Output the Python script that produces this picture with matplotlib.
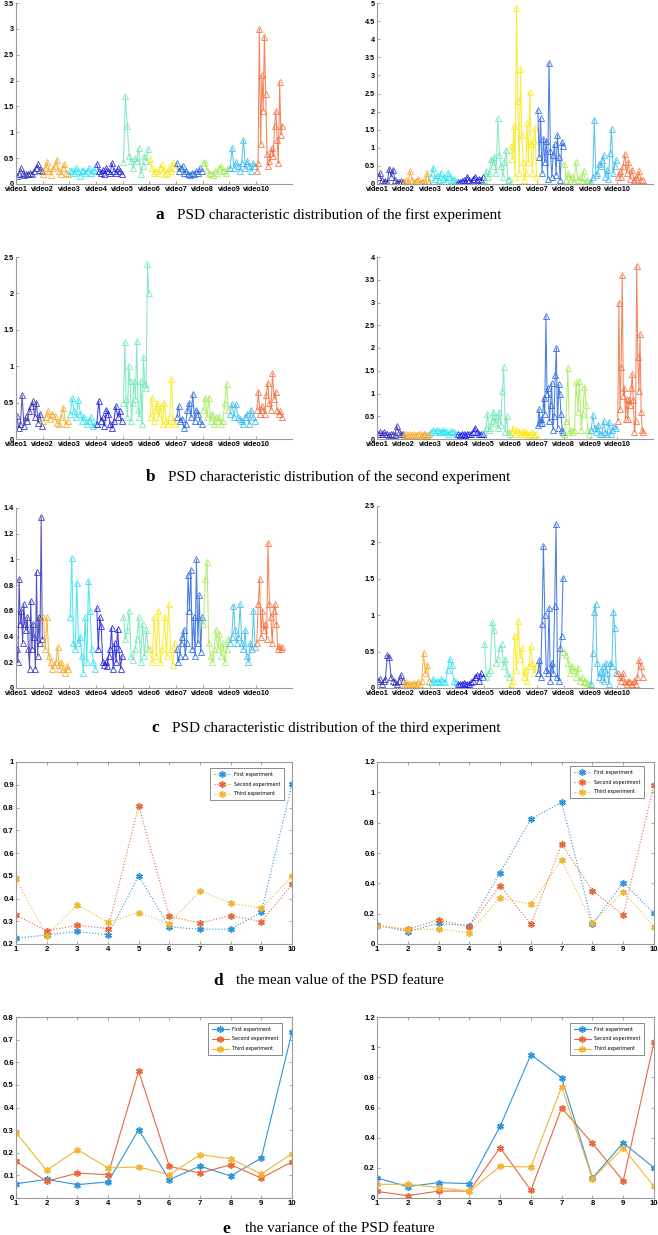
import numpy as np
import matplotlib
matplotlib.use("Agg")
import matplotlib.pyplot as plt
from matplotlib.ticker import FuncFormatter

W, H = 658, 1235

videos = [f"video{i}" for i in range(1, 11)]
video_colors = ["#3434b8", "#f7a928", "#2ee3f0", "#2020e0", "#70e8b4",
                "#fbe812", "#2a68e0", "#a2ec5a", "#3cbcf0", "#f2703e"]

# ---------------- PSD characteristic distribution data (per video) ----------------
a_left = [
    [0.15, 0.2, 0.3, 0.22, 0.18, 0.2, 0.19, 0.22, 0.2, 0.25, 0.3, 0.38, 0.28, 0.25],
    [0.2, 0.3, 0.42, 0.25, 0.18, 0.3, 0.35, 0.47, 0.25, 0.2, 0.3, 0.38, 0.22, 0.2],
    [0.28, 0.25, 0.22, 0.3, 0.25, 0.15, 0.25, 0.28, 0.22, 0.25, 0.3, 0.22, 0.28, 0.25],
    [0.38, 0.25, 0.22, 0.28, 0.2, 0.3, 0.25, 0.22, 0.4, 0.25, 0.22, 0.3, 0.25, 0.2],
    [0.42, 1.7, 1.13, 0.55, 0.45, 0.3, 0.5, 0.45, 0.7, 0.2, 0.35, 0.55, 0.45, 0.68],
    [0.48, 0.3, 0.22, 0.25, 0.22, 0.3, 0.38, 0.28, 0.2, 0.22, 0.3, 0.25, 0.42, 0.3],
    [0.4, 0.25, 0.3, 0.35, 0.22, 0.25, 0.2, 0.18, 0.22, 0.2, 0.25, 0.22, 0.3, 0.25],
    [0.4, 0.42, 0.28, 0.2, 0.22, 0.18, 0.25, 0.22, 0.3, 0.35, 0.28, 0.25, 0.22, 0.3],
    [0.3, 0.7, 0.3, 0.42, 0.35, 0.25, 0.4, 0.85, 0.3, 0.45, 0.35, 0.25, 0.4, 0.35],
    [0.25, 0.4, 3.0, 0.77, 2.1, 1.42, 2.85, 1.75, 0.58, 0.35, 0.45, 0.6, 0.7, 0.55,
     1.13, 1.42, 0.85, 0.4, 1.97, 0.95, 1.13],
]
a_right = [
    [0.2, 0.3, 0.1, 0.05, 0.08, 0.05, 0.42, 0.2, 0.4, 0.1, 0.05, 0.05, 0.08, 0.05],
    [0.05, 0.1, 0.05, 0.35, 0.1, 0.05, 0.08, 0.15, 0.05, 0.05, 0.1, 0.05, 0.3, 0.05],
    [0.2, 0.45, 0.15, 0.25, 0.1, 0.3, 0.15, 0.2, 0.08, 0.3, 0.2, 0.1, 0.15, 0.05],
    [0.05, 0.05, 0.08, 0.1, 0.05, 0.2, 0.1, 0.05, 0.15, 0.2, 0.1, 0.15, 0.1, 0.2],
    [0.1, 0.35, 0.2, 0.3, 0.7, 0.5, 0.75, 0.3, 1.82, 0.8, 0.5, 0.2, 0.6, 0.95, 0.1, 0.15],
    [1.05, 0.7, 1.6, 0.2, 4.85, 2.3, 0.3, 3.18, 1.35, 0.6, 0.1, 0.3, 1.68, 0.6, 2.55,
     1.1, 0.3, 1.2, 1.55, 0.2],
    [2.05, 0.75, 1.82, 0.3, 1.25, 0.6, 1.2, 0.15, 3.35, 0.9, 0.2, 0.8, 1.1, 0.25, 1.35,
     0.75, 0.1, 1.15, 1.05],
    [0.55, 0.1, 0.3, 0.15, 0.2, 0.05, 0.6, 0.1, 0.2, 0.08, 0.35, 0.05, 0.1, 0.05],
    [0.05, 0.2, 1.78, 0.25, 0.3, 0.55, 0.5, 0.65, 0.8, 0.2, 0.4, 0.15, 0.85, 1.52, 0.3,
     0.5, 0.65],
    [0.2, 0.35, 0.2, 0.5, 0.82, 0.3, 0.62, 0.15, 0.4, 0.1, 0.2, 0.15, 0.35, 0.1, 0.12],
]
b_left = [
    [0.32, 0.15, 0.2, 0.6, 0.18, 0.3, 0.25, 0.38, 0.45, 0.52, 0.3, 0.5, 0.22, 0.35, 0.18],
    [0.25, 0.3, 0.38, 0.28, 0.35, 0.32, 0.22, 0.2, 0.3, 0.43, 0.2, 0.25],
    [0.35, 0.56, 0.38, 0.3, 0.53, 0.35, 0.25, 0.3, 0.2, 0.25, 0.3, 0.18, 0.2],
    [0.2, 0.52, 0.25, 0.3, 0.18, 0.4, 0.35, 0.2, 0.15, 0.25, 0.45, 0.3, 0.38, 0.25],
    [0.5, 1.33, 0.55, 0.3, 1.0, 0.8, 0.25, 0.5, 0.8, 0.55, 1.35, 0.4, 0.3, 0.8, 0.2,
     1.12, 0.75, 0.7, 2.4, 2.0],
    [0.3, 0.57, 0.25, 0.4, 0.5, 0.3, 0.45, 0.2, 0.5, 0.25, 0.2, 0.3, 0.82, 0.25, 0.2],
    [0.3, 0.45, 0.25, 0.28, 0.15, 0.2, 0.4, 0.5, 0.3, 0.62, 0.25, 0.4, 0.35, 0.25, 0.2],
    [0.4, 0.57, 0.3, 0.57, 0.25, 0.35, 0.2, 0.3, 0.25, 0.3, 0.2, 0.25, 0.5, 0.76, 0.4],
    [0.35, 0.48, 0.3, 0.48, 0.3, 0.28, 0.25, 0.2, 0.3, 0.35, 0.2, 0.4, 0.3, 0.25],
    [0.4, 0.65, 0.35, 0.45, 0.4, 0.35, 0.6, 0.77, 0.5, 0.4, 0.9, 0.55, 0.65, 0.4, 0.35,
     0.38, 0.3],
]
b_right = [
    [0.12, 0.15, 0.1, 0.15, 0.12, 0.1, 0.08, 0.1, 0.12, 0.08, 0.28, 0.15, 0.1, 0.12],
    [0.08, 0.1, 0.08, 0.1, 0.08, 0.1, 0.08, 0.1, 0.1, 0.08, 0.1, 0.1, 0.08, 0.1],
    [0.15, 0.2, 0.15, 0.2, 0.18, 0.15, 0.2, 0.15, 0.18, 0.12, 0.15, 0.18, 0.15, 0.1],
    [0.1, 0.08, 0.12, 0.1, 0.08, 0.12, 0.1, 0.12, 0.15, 0.25, 0.15, 0.1, 0.12, 0.1],
    [0.15, 0.25, 0.55, 0.2, 0.25, 0.4, 0.6, 0.35, 0.5, 0.25, 0.6, 0.3, 1.05, 1.58, 0.15,
     0.5, 0.15, 0.1],
    [0.15, 0.25, 0.1, 0.2, 0.15, 0.1, 0.18, 0.1, 0.15, 0.08, 0.12, 0.15, 0.08, 0.1],
    [0.3, 0.65, 0.35, 0.45, 0.35, 0.9, 0.55, 2.7, 1.0, 1.12, 0.4, 0.75, 1.22, 0.2, 0.5,
     1.4, 2.0, 0.25, 1.2, 1.0, 0.55, 0.2, 0.15],
    [0.1, 0.4, 1.56, 0.15, 0.2, 0.15, 0.2, 1.25, 0.6, 1.27, 0.2, 0.55, 1.15, 0.75, 0.2, 0.1],
    [0.2, 0.52, 0.25, 0.15, 0.3, 0.12, 0.1, 0.4, 0.15, 0.1, 0.38, 0.1, 0.2, 0.28, 0.25],
    [0.4, 3.0, 0.65, 1.58, 3.6, 0.95, 1.12, 0.45, 0.88, 0.45, 0.85, 0.75, 1.12, 1.42, 0.85,
     0.15, 0.4, 3.8, 1.8, 1.05, 2.3, 0.6, 0.2, 0.15],
]
c_left = [
    [0.3, 0.2, 0.85, 0.5, 0.6, 0.35, 0.65, 0.5, 0.45, 0.55, 0.3, 0.15, 0.68, 0.3, 0.5,
     0.4, 0.15, 0.9, 0.25, 0.55, 0.35, 1.33, 0.38],
    [0.55, 0.3, 0.55, 0.25, 0.2, 0.15, 0.18, 0.2, 0.32, 0.15, 0.2, 0.15, 0.12, 0.17, 0.15],
    [0.55, 1.01, 0.35, 0.3, 0.82, 0.35, 0.4, 0.25, 0.12, 0.55, 0.2, 0.83, 0.6, 0.3, 0.2, 0.15],
    [0.62, 0.3, 0.55, 0.48, 0.2, 0.18, 0.2, 0.17, 0.25, 0.3, 0.47, 0.15, 0.35, 0.2, 0.46,
     0.3, 0.15, 0.25],
    [0.55, 0.38, 0.45, 0.6, 0.25, 0.22, 0.3, 0.38, 0.55, 0.2, 0.5, 0.25, 0.45, 0.3],
    [0.3, 0.2, 0.55, 0.25, 0.6, 0.2, 0.3, 0.55, 0.25, 0.65, 0.3, 0.18, 0.35],
    [0.3, 0.2, 0.25, 0.35, 0.4, 0.45, 0.25, 0.35, 0.88, 0.6, 0.92, 0.3, 0.55, 0.25, 1.0,
     0.35, 0.72, 0.28, 0.55],
    [0.5, 0.85, 0.98, 0.35, 0.25, 0.2, 0.3, 0.45, 0.3, 0.42, 0.25, 0.35, 0.2, 0.3, 0.38],
    [0.35, 0.4, 0.64, 0.45, 0.35, 0.4, 0.65, 0.35, 0.3, 0.45, 0.25, 0.2, 0.35, 0.3, 0.6, 0.32],
    [0.35, 0.65, 0.85, 0.4, 0.6, 0.45, 0.5, 0.38, 1.13, 0.65, 0.55, 0.35, 0.6, 0.65, 0.5,
     0.3, 0.33, 0.3, 0.32],
]
c_right = [
    [0.1, 0.12, 0.05, 0.1, 0.12, 0.45, 0.42, 0.15, 0.1, 0.08, 0.05, 0.1, 0.18, 0.1],
    [0.05, 0.08, 0.05, 0.06, 0.05, 0.07, 0.05, 0.08, 0.05, 0.1, 0.48, 0.2, 0.32, 0.1],
    [0.08, 0.12, 0.08, 0.1, 0.08, 0.12, 0.1, 0.08, 0.25, 0.4, 0.32, 0.1, 0.08],
    [0.05, 0.06, 0.05, 0.07, 0.05, 0.06, 0.05, 0.08, 0.1, 0.15, 0.18, 0.1, 0.2, 0.15],
    [0.6, 0.15, 0.2, 0.25, 0.9, 0.8, 0.35, 0.4, 0.55, 0.6, 0.3, 0.4, 0.2, 0.15],
    [0.05, 0.1, 0.72, 0.25, 0.92, 0.4, 0.55, 0.15, 0.25, 0.1, 0.3, 0.58, 0.35, 0.2, 0.3],
    [0.2, 0.38, 0.15, 0.88, 1.95, 1.0, 0.25, 0.2, 1.1, 0.1, 0.35, 0.2, 1.13, 2.25, 0.15,
     0.1, 0.55, 0.72, 1.51],
    [0.5, 0.45, 0.35, 0.2, 0.3, 0.25, 0.15, 0.28, 0.1, 0.15, 0.08, 0.1, 0.07, 0.05],
    [0.05, 0.48, 1.05, 1.15, 0.35, 0.15, 0.22, 0.12, 0.3, 0.1, 0.35, 0.2, 0.05, 0.35, 0.3,
     1.05, 0.82, 0.2],
    [0.2, 0.15, 0.1, 0.2, 0.08, 0.05, 0.1, 0.08, 0.05, 0.1, 0.05, 0.15, 0.38, 0.3, 0.15],
]

# ---------------- mean / variance data ----------------
exp_labels = ["First experiment", "Second experiment", "Third experiment"]
exp_colors = ["#2f95da", "#e8683c", "#f2b532"]
video_idx = list(range(1, 11))

mean_left_first = [0.225, 0.24, 0.255, 0.24, 0.50, 0.275, 0.265, 0.265, 0.34, 0.905]
mean_left_second = [0.327, 0.258, 0.282, 0.268, 0.808, 0.322, 0.292, 0.325, 0.298, 0.462]
mean_left_third = [0.485, 0.237, 0.373, 0.295, 0.338, 0.29, 0.434, 0.38, 0.358, 0.497]

mean_right_first = [0.125, 0.082, 0.137, 0.119, 0.471, 0.824, 0.934, 0.132, 0.405, 0.203]
mean_right_second = [0.121, 0.097, 0.159, 0.115, 0.385, 0.13, 0.659, 0.35, 0.192, 1.05]
mean_right_third = [0.119, 0.092, 0.099, 0.075, 0.306, 0.262, 0.555, 0.139, 0.344, 0.115]

var_left_first = [0.063, 0.082, 0.059, 0.071, 0.302, 0.081, 0.141, 0.097, 0.177, 0.733]
var_left_second = [0.162, 0.074, 0.11, 0.103, 0.561, 0.14, 0.11, 0.147, 0.088, 0.16]
var_left_third = [0.289, 0.122, 0.214, 0.133, 0.137, 0.103, 0.191, 0.174, 0.106, 0.196]

var_right_first = [0.133, 0.075, 0.102, 0.095, 0.475, 0.95, 0.798, 0.133, 0.365, 0.201]
var_right_second = [0.044, 0.015, 0.046, 0.046, 0.334, 0.051, 0.597, 0.362, 0.113, 1.034]
var_right_third = [0.091, 0.091, 0.069, 0.044, 0.21, 0.206, 0.736, 0.128, 0.331, 0.077]

captions = [
    ("a", "PSD characteristic distribution of the first experiment", 155, 177, 215),
    ("b", "PSD characteristic distribution of the second experiment", 146, 168, 477),
    ("c", "PSD characteristic distribution of the third experiment", 151, 172, 728),
    ("d", "the mean value of the PSD feature", 213, 236, 981),
    ("e", "the variance of the PSD feature", 222, 245, 1229),
]

fig = plt.figure(figsize=(W / 100, H / 100), dpi=100)
fig.patch.set_facecolor("white")


def add_ax(x0, x1, ytop, ybot):
    return fig.add_axes([x0 / W, 1 - ybot / H, (x1 - x0) / W, (ybot - ytop) / H])


fmt = FuncFormatter(lambda v, p: f"{v:g}")
axis_gray = "#9a9a9a"
tick_font = "Liberation Sans"


def style_labels(ax, size):
    for lab in ax.get_xticklabels() + ax.get_yticklabels():
        lab.set_fontweight("bold")
        lab.set_fontfamily(tick_font)
        lab.set_fontsize(size)


def spike_panel(ax, data, ymax, ystep):
    for i, vals in enumerate(data):
        n = len(vals)
        x = i + np.arange(n) * (1.0 / n) + 0.03
        ax.plot(x, vals, color=video_colors[i], lw=0.75, marker="^", ms=3.9,
                mfc="none", mew=0.65, alpha=0.85)
    ax.set_xlim(0, 10.35)
    ax.set_ylim(0, ymax)
    ax.set_xticks(range(10))
    ax.set_xticklabels(videos)
    ax.set_yticks(np.arange(0, ymax + 1e-9, ystep))
    ax.yaxis.set_major_formatter(fmt)
    for s in ["top", "right"]:
        ax.spines[s].set_visible(False)
    for s in ["left", "bottom"]:
        ax.spines[s].set_color(axis_gray)
        ax.spines[s].set_linewidth(0.8)
    ax.tick_params(direction="in", length=2, width=0.6, color=axis_gray, pad=1.5)
    style_labels(ax, 5.2)


def line_panel(ax, series, ylo, yhi, ystep, ls, legend_anchor):
    for vals, lab, col in zip(series, exp_labels, exp_colors):
        ax.plot(video_idx, vals, ls=ls, lw=0.8, color=col, marker=(6, 2, 0),
                ms=4.8, mew=1.1, label=lab)
    ax.set_xlim(1, 10)
    ax.set_ylim(ylo, yhi)
    ax.set_xticks(video_idx)
    ax.set_yticks(np.arange(ylo, yhi + 1e-9, ystep))
    ax.yaxis.set_major_formatter(fmt)
    for s in ax.spines.values():
        s.set_color(axis_gray)
        s.set_linewidth(0.8)
    ax.tick_params(direction="in", length=2, width=0.6, color=axis_gray,
                   pad=1.5, top=True, right=True)
    style_labels(ax, 5.6)
    leg = ax.legend(loc="upper right", bbox_to_anchor=legend_anchor, borderaxespad=0,
                    fontsize=3.4, frameon=True, fancybox=False, edgecolor="#555555",
                    handlelength=3.6, labelspacing=1.0, borderpad=0.8, handletextpad=0.6)
    leg.get_frame().set_linewidth(0.6)


# Row a
spike_panel(add_ax(16, 292, 3, 184), a_left, 3.5, 0.5)
spike_panel(add_ax(377, 653, 3, 184), a_right, 5, 0.5)
# Row b
spike_panel(add_ax(16, 292, 257, 439), b_left, 2.5, 0.5)
spike_panel(add_ax(377, 653, 257, 439), b_right, 4, 0.5)
# Row c
spike_panel(add_ax(16, 292, 508, 688), c_left, 1.4, 0.2)
spike_panel(add_ax(377, 653, 506, 688), c_right, 2.5, 0.5)
# Row d
line_panel(add_ax(16, 292, 762, 944),
           [mean_left_first, mean_left_second, mean_left_third],
           0.2, 1.0, 0.1, ":", (0.971, 0.967))
line_panel(add_ax(377, 654, 762, 944),
           [mean_right_first, mean_right_second, mean_right_third],
           0.0, 1.2, 0.2, ":", (0.964, 0.978))
# Row e
line_panel(add_ax(16, 292, 1017, 1198),
           [var_left_first, var_left_second, var_left_third],
           0.0, 0.8, 0.1, "-", (0.964, 0.967))
line_panel(add_ax(377, 654, 1017, 1198),
           [var_right_first, var_right_second, var_right_third],
           0.0, 1.2, 0.2, "-", (0.964, 0.967))

for letter, text, xl, xt, yc in captions:
    fig.text(xl / W, 1 - yc / H, letter, family="Liberation Serif", weight="bold",
             fontsize=12.5, ha="left", va="center")
    fig.text(xt / W, 1 - yc / H, text, family="Liberation Serif",
             fontsize=10.9, ha="left", va="center")

fig.savefig("out.png", dpi=100)
